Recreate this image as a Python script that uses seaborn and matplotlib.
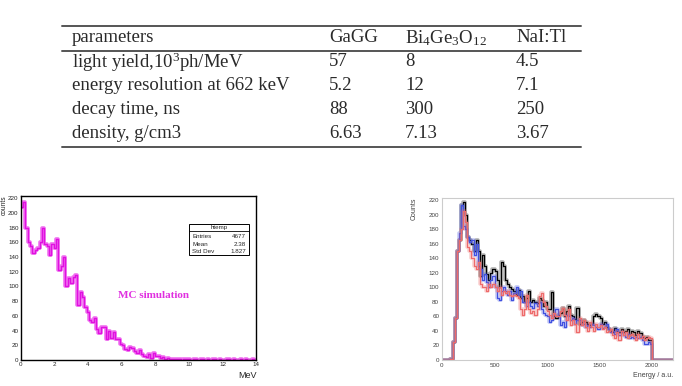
import seaborn as sns
import matplotlib.pyplot as plt
import numpy as np
import pandas as pd
from matplotlib.ticker import MultipleLocator
from matplotlib.patches import Rectangle

# ---------------- data ----------------
table_header = ["parameters", "GaGG", r"Bi$_4$Ge$_3$O$_{12}$", "NaI:Tl"]
table_rows = [
    [r"light yield,10$^3$ph/MeV", "57", "8", "4.5"],
    ["energy resolution at 662 keV", "5.2", "12", "7.1"],
    ["decay time, ns", "88", "300", "250"],
    ["density, g/cm3", "6.63", "7.13", "3.67"],
]

# MC simulation histogram (100 bins, 0-14 MeV)
mc_edges = list(np.linspace(0, 14, 101))
mc_counts = [
    208, 215, 180, 160, 155, 145, 150, 152, 160, 180,
    158, 155, 143, 158, 152, 165, 122, 128, 140, 100,
    112, 105, 113, 115, 75, 93, 85, 72, 65, 55,
    52, 57, 42, 37, 45, 45, 28, 40, 30, 38,
    28, 28, 22, 20, 15, 14, 17, 16, 12, 10,
    13, 8, 6, 4, 8, 3, 9, 6, 5, 3,
    4, 2, 3, 1, 2, 1, 2, 1, 0, 1,
    2, 1, 0, 1, 1, 0, 2, 1, 0, 1,
    0, 1, 1, 0, 1, 0, 0, 1, 1, 0,
    1, 0, 0, 1, 0, 1, 0, 0, 1, 0,
]
mc_stats = [("Entries", "4677"), ("Mean", "2.38"), ("Std Dev", "1.827")]

# measured spectra (20 a.u. bins, 0-2200)
en_edges = list(range(0, 2201, 20))
black_counts = [0, 0, 0, 0] + [
    2, 25, 58, 150, 165, 213, 217, 200, 170, 165,
    160, 150, 165, 150, 115, 145, 130, 118, 110, 120,
    125, 122, 110, 100, 135, 130, 110, 105, 100, 98,
    95, 90, 96, 85, 88, 80, 85, 95, 80, 82,
    80, 78, 85, 82, 75, 80, 70, 70, 93, 60,
    58, 62, 65, 72, 60, 68, 75, 62, 60, 56,
    72, 50, 52, 55, 52, 50, 48, 50, 60, 63,
    60, 58, 50, 52, 45, 42, 40, 38, 44, 40,
    38, 42, 38, 40, 42, 35, 40, 38, 35, 40,
    37, 32, 30, 32, 28, 28,
] + [0] * 10
blue_counts = [0, 0, 0, 0] + [
    2, 25, 58, 150, 175, 213, 185, 180, 170, 162,
    165, 145, 160, 130, 125, 110, 118, 108, 100, 110,
    115, 100, 85, 82, 95, 100, 95, 90, 95, 82,
    92, 100, 90, 95, 80, 80, 75, 80, 75, 72,
    78, 75, 80, 70, 65, 62, 60, 52, 55, 62,
    70, 60, 48, 52, 45, 62, 60, 55, 58, 50,
    55, 55, 48, 50, 46, 48, 46, 50, 48, 45,
    42, 50, 44, 46, 50, 42, 38, 40, 36, 42,
    35, 38, 35, 32, 36, 30, 32, 30, 32, 30,
    32, 28, 22, 22, 25, 22,
] + [0] * 10
red_counts = [0, 0, 0, 0] + [
    2, 25, 58, 150, 165, 180, 205, 190, 155, 150,
    140, 130, 125, 135, 105, 100, 100, 95, 105, 100,
    105, 100, 95, 100, 90, 95, 92, 95, 90, 88,
    90, 88, 86, 70, 62, 70, 90, 70, 65, 68,
    62, 70, 88, 92, 80, 75, 68, 62, 58, 65,
    60, 60, 68, 72, 62, 55, 70, 48, 55, 50,
    38, 58, 48, 55, 45, 40, 52, 45, 40, 50,
    45, 48, 42, 45, 38, 40, 42, 35, 30, 38,
    28, 40, 35, 38, 30, 35, 36, 33, 28, 36,
    30, 33, 28, 30, 32, 30,
] + [0] * 10
spectra = [("black", black_counts), ("#4050e0", blue_counts), ("#ee6a6a", red_counts)]


def centers(edges):
    e = np.asarray(edges, dtype=float)
    return (e[:-1] + e[1:]) / 2


mc_df = pd.DataFrame({"MeV": centers(mc_edges), "n": mc_counts})

# ---------------- style ----------------
sns.set_style("white")
plt.rcParams["font.family"] = ["Liberation Sans", "DejaVu Sans"]
plt.rcParams["mathtext.fontset"] = "custom"
plt.rcParams["mathtext.rm"] = "Liberation Serif"
plt.rcParams["mathtext.it"] = "Liberation Serif:italic"

fig = plt.figure(figsize=(6.82, 3.86), dpi=100)

# ---------------- table (pixel coordinates) ----------------
tab = fig.add_axes([0, 0, 1, 1], zorder=0)
tab.set_xlim(0, 682)
tab.set_ylim(386, 0)
tab.axis("off")
col_x = [72, 329, 405, 516]
row_y = [38, 62, 86, 110, 133]
for y, row in zip(row_y, [table_header] + table_rows):
    for x, txt in zip(col_x, row):
        tab.text(x, y, txt, family="Liberation Serif", fontsize=13.5,
                 color="#2a2a2a", va="center", ha="left")
for y in [26, 51, 147]:
    tab.plot([62, 581], [y, y], color="#555555", lw=1.4)

# ---------------- left: MC histogram ----------------
axl = fig.add_axes([20.7 / 682, 26 / 386, 235.6 / 682, 164 / 386])
sns.histplot(data=mc_df, x="MeV", weights="n", bins=mc_edges, element="step",
             fill=False, color="#f070f0", linewidth=2.6, ax=axl)
sns.histplot(data=mc_df, x="MeV", weights="n", bins=mc_edges, element="step",
             fill=False, color="#e010e0", linewidth=1.0, ax=axl)
axl.set_xlim(0, 14)
axl.set_ylim(0, 223)
axl.xaxis.set_major_locator(MultipleLocator(2))
axl.xaxis.set_minor_locator(MultipleLocator(0.4))
axl.yaxis.set_major_locator(MultipleLocator(20))
axl.yaxis.set_minor_locator(MultipleLocator(4))
axl.tick_params(which="both", direction="in", labelsize=4.5, pad=1.5,
                color="black", width=0.7)
axl.tick_params(which="major", length=4)
axl.tick_params(which="minor", length=2)
for s in axl.spines.values():
    s.set_color("black")
    s.set_linewidth(1.0)
axl.set_ylabel("")
axl.set_xlabel("MeV", loc="right", fontsize=6.5, labelpad=3)
fig.text(0.0015, 0.495, "counts", rotation=90, fontsize=4.8, va="top", ha="left")
axl.text(0.413, 0.396, "MC simulation", transform=axl.transAxes,
         family="Liberation Serif", fontweight="bold", fontsize=8,
         color="#e030e0", va="center")

# stats box
bx0, bx1, by0, by1 = 0.714, 0.969, 0.640, 0.829
axl.add_patch(Rectangle((bx0, by0), bx1 - bx0, by1 - by0, transform=axl.transAxes,
                        facecolor="white", edgecolor="black", lw=0.7, zorder=5))
axl.plot([bx0, bx1], [0.787, 0.787], transform=axl.transAxes, color="black",
         lw=0.6, zorder=6)
axl.text((bx0 + bx1) / 2, 0.808, "htemp", transform=axl.transAxes, ha="center",
         va="center", fontsize=4.5, zorder=6)
for yy, (k, v) in zip([0.756, 0.707, 0.659], mc_stats):
    axl.text(bx0 + 0.015, yy, k, transform=axl.transAxes, ha="left",
             va="center", fontsize=4.5, zorder=6)
    axl.text(bx1 - 0.012, yy, v, transform=axl.transAxes, ha="right",
             va="center", fontsize=4.5, zorder=6)

# ---------------- right: measured spectra ----------------
axr = fig.add_axes([442 / 682, 26 / 386, 231 / 682, 162 / 386])
for col, counts in spectra:
    df = pd.DataFrame({"E": centers(en_edges), "n": counts})
    sns.histplot(data=df, x="E", weights="n", bins=en_edges, element="step",
                 fill=False, color=col, linewidth=2.6, alpha=0.3, ax=axr)
    sns.histplot(data=df, x="E", weights="n", bins=en_edges, element="step",
                 fill=False, color=col, linewidth=0.9, ax=axr)
axr.set_xlim(0, 2200)
axr.set_ylim(0, 223)
axr.xaxis.set_major_locator(MultipleLocator(500))
axr.xaxis.set_minor_locator(MultipleLocator(100))
axr.yaxis.set_major_locator(MultipleLocator(20))
axr.yaxis.set_minor_locator(MultipleLocator(4))
axr.tick_params(which="both", direction="in", labelsize=4.5, pad=2,
                color="#999999", labelcolor="#444444", width=0.6)
axr.tick_params(which="major", length=4)
axr.tick_params(which="minor", length=2)
for s in axr.spines.values():
    s.set_color("#cccccc")
    s.set_linewidth(0.8)
axr.set_ylabel("Counts", loc="top", fontsize=5, color="#444444", labelpad=8)
axr.set_xlabel("Energy / a.u.", loc="right", fontsize=5, color="#444444", labelpad=3)

fig.savefig("out.png", dpi=100)
